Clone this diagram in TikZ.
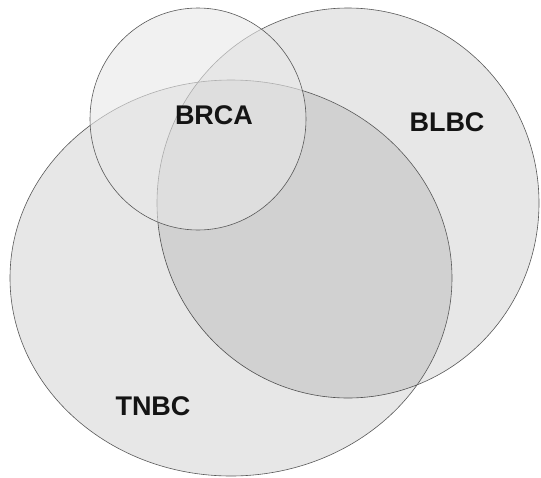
\documentclass[tikz,border=0pt]{standalone}
\usepackage{fontspec}
\setmainfont{Liberation Sans}
\tikzset{
  setarea/.style={
    draw=black!65,
    line width=0.6pt,
    fill=black,
    fill opacity=0.095
  },
  topset/.style={
    setarea,
    fill=black!9,
    fill opacity=0.6
  },
  setlabel/.style={
    font=\fontsize{27}{30}\selectfont\bfseries,
    text=black!92,
    inner sep=0pt
  }
}
\begin{document}
\begin{tikzpicture}[x=1pt, y=-1pt]
\useasboundingbox (0,0) rectangle (541,477);
\fill[white] (0,0) rectangle (541,477);

% sets
\path[setarea] (348,203) ellipse [x radius=191, y radius=195];
\path[setarea] (231,278) ellipse [x radius=221, y radius=198];
\path[topset] (198,119) ellipse [x radius=108, y radius=111];

% labels
\node[setlabel] (brca) at (214,115) {BRCA};
\node[setlabel] (blbc) at (447,122) {BLBC};
\node[setlabel] (tnbc) at (153,406) {TNBC};
\end{tikzpicture}
\end{document}
